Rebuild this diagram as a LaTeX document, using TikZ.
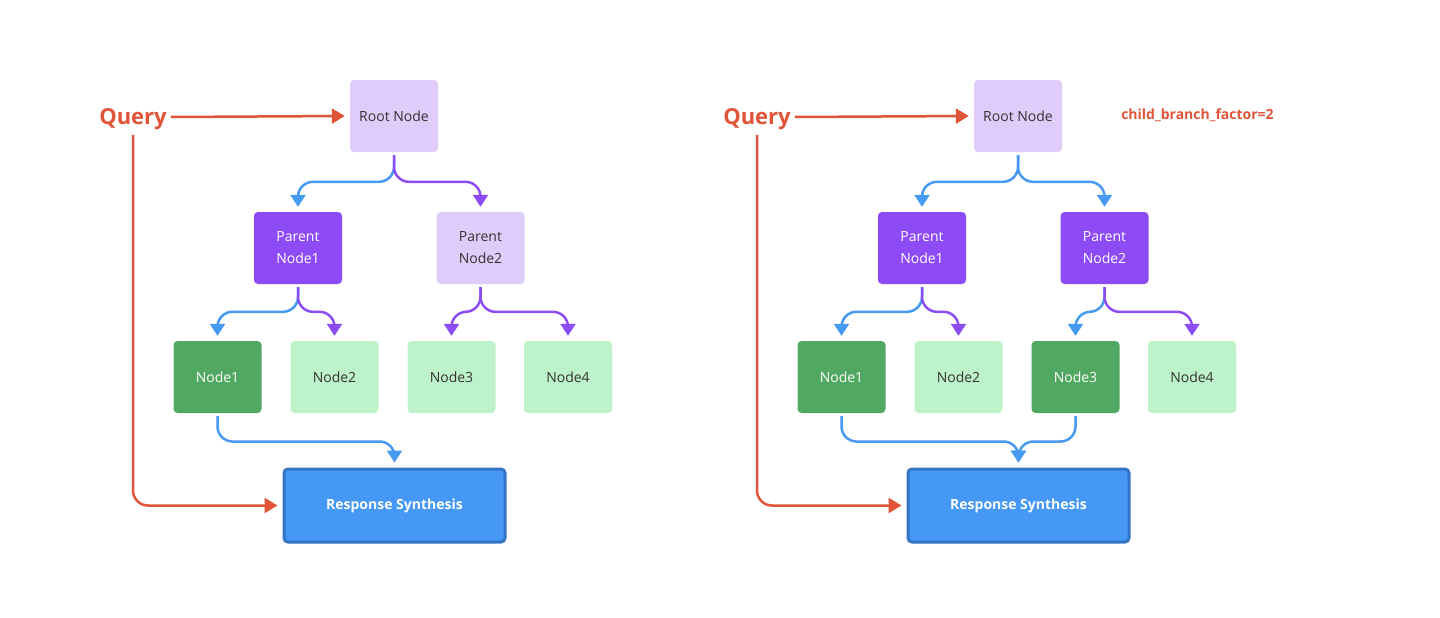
\documentclass[tikz,border=0pt]{standalone}
\usepackage{fontspec}
\setmainfont{Open Sans}
\usetikzlibrary{arrows.meta}
\definecolor{lpurple}{HTML}{E0CCFA}
\definecolor{dpurple}{HTML}{8E4BF5}
\definecolor{dgreen}{HTML}{51A862}
\definecolor{lgreen}{HTML}{BEF2CA}
\definecolor{rsblue}{HTML}{4598F5}
\definecolor{rsborder}{HTML}{3474C6}
\definecolor{qorange}{HTML}{E0553A}
\definecolor{ablue}{HTML}{4799F2}
\definecolor{apurple}{HTML}{8E4CF5}
\definecolor{txtdark}{HTML}{333333}
\tikzset{
  box/.style={rounded corners=4pt, minimum width=88pt, minimum height=72pt, inner sep=0pt,
    align=center, font=\fontsize{14}{22}\selectfont},
  lightp/.style={box, fill=lpurple, text=txtdark},
  darkp/.style={box, fill=dpurple, text=white},
  lightg/.style={box, fill=lgreen, text=txtdark},
  darkg/.style={box, fill=dgreen, text=white},
  rsbox/.style={rounded corners=4pt, minimum width=221pt, minimum height=73pt, inner sep=0pt,
    fill=rsblue, draw=rsborder, line width=3pt, text=white, font=\fontsize{14}{17}\selectfont\bfseries},
  qlabel/.style={text=qorange, font=\fontsize{22}{26}\selectfont\bfseries, inner sep=0pt},
  conn/.style={line width=2.5pt, rounded corners=15pt, -{Triangle[width=15pt,length=12pt]}},
  barrow/.style={conn, draw=ablue},
  parrow/.style={conn, draw=apurple},
  oarrow/.style={conn, draw=qorange, -{Triangle[width=15pt,length=13pt]}},
}
\begin{document}
\begin{tikzpicture}[x=1pt,y=-1pt]
\useasboundingbox[fill=white] (0,0) rectangle (1440,618);

% ---------- Left tree ----------
\node[qlabel] (Lq) at (133,119) {Query};
\node[lightp] (Lroot) at (394,116) {Root Node};
\node[darkp] (Lp1) at (298,248) {Parent\\Node1};
\node[lightp] (Lp2) at (480.5,248) {Parent\\Node2};
\node[darkg] (Ln1) at (217.5,377) {Node1};
\node[lightg] (Ln2) at (334.5,377) {Node2};
\node[lightg] (Ln3) at (451.5,377) {Node3};
\node[lightg] (Ln4) at (568,377) {Node4};
\node[rsbox] (Lrs) at (394.5,505.5) {Response Synthesis};

\draw[oarrow] ([xshift=4pt,yshift=2pt]Lq.east) -- ([xshift=-5pt]Lroot.west);
\draw[oarrow] ([yshift=-5pt]Lq.south) |- ([xshift=-5pt]Lrs.west);

\draw[barrow] ([yshift=-3pt]Lroot.south) |- ([yshift=30pt]Lp1.north) -- ([yshift=5pt]Lp1.north);
\draw[parrow] ([yshift=-3pt]Lroot.south) |- ([yshift=30pt]Lp2.north) -- ([yshift=5pt]Lp2.north);
\draw[barrow] ([yshift=-3pt]Lp1.south) |- ([yshift=29pt]Ln1.north) -- ([yshift=5pt]Ln1.north);
\draw[parrow] ([yshift=-3pt]Lp1.south) |- ([yshift=29pt]Ln2.north) -- ([yshift=5pt]Ln2.north);
\draw[parrow] ([yshift=-3pt]Lp2.south) |- ([yshift=29pt]Ln3.north) -- ([yshift=5pt]Ln3.north);
\draw[parrow] ([yshift=-3pt]Lp2.south) |- ([yshift=29pt]Ln4.north) -- ([yshift=5pt]Ln4.north);
\draw[barrow] ([yshift=-3pt]Ln1.south) |- ([yshift=26pt]Lrs.north) -- ([yshift=5pt]Lrs.north);

% ---------- Right tree ----------
\begin{scope}[xshift=624pt]
\node[qlabel] (Rq) at (133,119) {Query};
\node[lightp] (Rroot) at (394,116) {Root Node};
\node[darkp] (Rp1) at (298,248) {Parent\\Node1};
\node[darkp] (Rp2) at (480.5,248) {Parent\\Node2};
\node[darkg] (Rn1) at (217.5,377) {Node1};
\node[lightg] (Rn2) at (334.5,377) {Node2};
\node[darkg] (Rn3) at (451.5,377) {Node3};
\node[lightg] (Rn4) at (568,377) {Node4};
\node[rsbox] (Rrs) at (394.5,505.5) {Response Synthesis};
\node[text=qorange, font=\fontsize{14}{17}\selectfont\bfseries, inner sep=0pt] (Rcbf) at (573.5,115) {child\_branch\_factor=2};

\draw[oarrow] ([xshift=4pt,yshift=2pt]Rq.east) -- ([xshift=-5pt]Rroot.west);
\draw[oarrow] ([yshift=-5pt]Rq.south) |- ([xshift=-5pt]Rrs.west);

\draw[barrow] ([yshift=-3pt]Rroot.south) |- ([yshift=30pt]Rp1.north) -- ([yshift=5pt]Rp1.north);
\draw[barrow] ([yshift=-3pt]Rroot.south) |- ([yshift=30pt]Rp2.north) -- ([yshift=5pt]Rp2.north);
\draw[barrow] ([yshift=-3pt]Rp1.south) |- ([yshift=29pt]Rn1.north) -- ([yshift=5pt]Rn1.north);
\draw[parrow] ([yshift=-3pt]Rp1.south) |- ([yshift=29pt]Rn2.north) -- ([yshift=5pt]Rn2.north);
\draw[barrow] ([yshift=-3pt]Rp2.south) |- ([yshift=29pt]Rn3.north) -- ([yshift=5pt]Rn3.north);
\draw[parrow] ([yshift=-3pt]Rp2.south) |- ([yshift=29pt]Rn4.north) -- ([yshift=5pt]Rn4.north);
\draw[barrow] ([yshift=-3pt]Rn1.south) |- ([yshift=26pt]Rrs.north) -- ([yshift=5pt]Rrs.north);
\draw[barrow] ([yshift=-3pt]Rn3.south) |- ([yshift=26pt]Rrs.north) -- ([yshift=5pt]Rrs.north);
\end{scope}
\end{tikzpicture}
\end{document}
